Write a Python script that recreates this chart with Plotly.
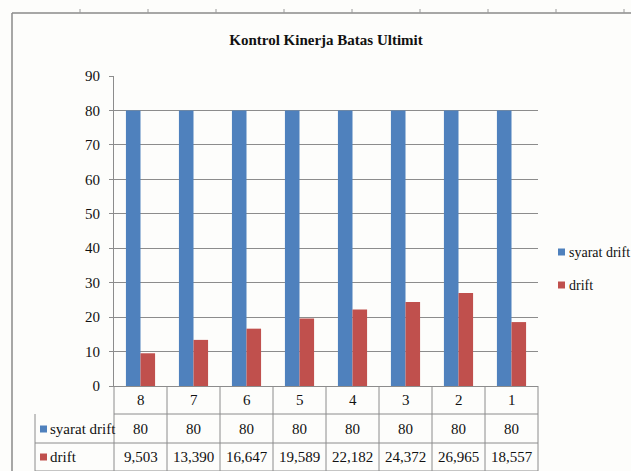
import plotly.graph_objects as go

categories = ["8", "7", "6", "5", "4", "3", "2", "1"]
syarat_drift = [80, 80, 80, 80, 80, 80, 80, 80]
drift = [9.503, 13.390, 16.647, 19.589, 22.182, 24.372, 26.965, 18.557]
series_names = ["syarat drift", "drift"]
colors = ["#4F81BD", "#C0504D"]
title_text = "Kontrol Kinerja Batas Ultimit"

W, H = 631, 471
L, R, T, B = 114, 93, 76, 85
PW, PH = W - L - R, H - T - B
FONT = "Liberation Serif"
GRID = "#8c8c8c"

def px_x(p):
    return (p - L) / PW

def px_y(p):
    return (H - B - p) / PH

fig = go.Figure()
for name, vals, col in zip(series_names, [syarat_drift, drift], colors):
    fig.add_trace(go.Bar(x=categories, y=vals, name=name, marker_color=col,
                         marker_line_width=0, showlegend=False))

shapes = []
annotations = []

# table geometry (rows below plot)
row_lines = [px_y(414), px_y(443), px_y(471)]
row_centers = [px_y(400), px_y(429), px_y(457)]
left_edge = px_x(35)

# horizontal lines
shapes.append(dict(type="line", xref="paper", yref="paper", x0=0, x1=1,
                   y0=row_lines[0], y1=row_lines[0], line=dict(color=GRID, width=1)))
for yl in row_lines[1:]:
    shapes.append(dict(type="line", xref="paper", yref="paper", x0=left_edge, x1=1,
                       y0=yl, y1=yl, line=dict(color=GRID, width=1)))
# vertical lines
shapes.append(dict(type="line", xref="paper", yref="paper", x0=0, x1=0,
                   y0=row_lines[-1], y1=0, line=dict(color=GRID, width=1)))
shapes.append(dict(type="line", xref="paper", yref="paper", x0=1, x1=1,
                   y0=row_lines[-1], y1=0, line=dict(color=GRID, width=1)))
shapes.append(dict(type="line", xref="paper", yref="paper", x0=left_edge, x1=left_edge,
                   y0=row_lines[-1], y1=row_lines[0], line=dict(color=GRID, width=1)))
for i in range(len(categories) - 1):
    shapes.append(dict(type="line", xref="x", yref="paper", x0=i + 0.5, x1=i + 0.5,
                       y0=row_lines[-1], y1=0, line=dict(color=GRID, width=1)))

# outer frame (document chart border)
shapes.append(dict(type="line", xref="paper", yref="paper", x0=px_x(12), x1=px_x(W),
                   y0=px_y(13), y1=px_y(13), line=dict(color="#8a8a8a", width=1.5)))
shapes.append(dict(type="line", xref="paper", yref="paper", x0=px_x(12), x1=px_x(12),
                   y0=px_y(13), y1=px_y(H), line=dict(color="#8a8a8a", width=1.5)))
for k in range(9):
    xx = px_x(80 + 68 * k)
    shapes.append(dict(type="line", xref="paper", yref="paper", x0=xx, x1=xx,
                       y0=px_y(13), y1=px_y(9), line=dict(color="#9a9a9a", width=1)))

# table text (x given as category index)
txt_font = dict(family=FONT, size=15, color="#111111")
for i, c in enumerate(categories):
    annotations.append(dict(x=i, y=row_centers[0], xref="x", yref="paper", text=c,
                            showarrow=False, yanchor="middle", font=txt_font))
for i, v in enumerate(syarat_drift):
    annotations.append(dict(x=i, y=row_centers[1], xref="x", yref="paper", text=str(v),
                            showarrow=False, yanchor="middle", font=txt_font))
for i, v in enumerate(drift):
    annotations.append(dict(x=i, y=row_centers[2], xref="x", yref="paper",
                            text=f"{v:.3f}".replace(".", ","),
                            showarrow=False, yanchor="middle", font=txt_font))
for name, col, yc in zip(series_names, colors, row_centers[1:]):
    shapes.append(dict(type="rect", xref="paper", yref="paper",
                       x0=px_x(40), x1=px_x(47), y0=yc - 3.5 / PH, y1=yc + 3.5 / PH,
                       fillcolor=col, line=dict(width=0)))
    annotations.append(dict(x=px_x(47.5), y=yc, xref="paper", yref="paper", text=name,
                            showarrow=False, xanchor="left", yanchor="middle",
                            font=dict(family=FONT, size=15, color="#111111")))

# legend (drawn at right of plot)
legend_rows = [px_y(252), px_y(285)]
for name, col, yc in zip(series_names, colors, legend_rows):
    shapes.append(dict(type="rect", xref="paper", yref="paper",
                       x0=px_x(558), x1=px_x(565), y0=yc - 3.5 / PH, y1=yc + 3.5 / PH,
                       fillcolor=col, line=dict(width=0)))
    annotations.append(dict(x=px_x(567), y=yc, xref="paper", yref="paper", text=name,
                            showarrow=False, xanchor="left", yanchor="middle",
                            font=dict(family=FONT, size=14, color="#111111")))

fig.update_layout(
    width=W, height=H,
    margin=dict(l=L, r=R, t=T, b=B, pad=0, autoexpand=False),
    paper_bgcolor="#fdfdfb",
    plot_bgcolor="rgba(0,0,0,0)",
    barmode="group",
    bargap=0.45,
    bargroupgap=0,
    title=dict(text="<b>" + title_text + "</b>", x=0.5, xref="paper", xanchor="center",
               y=1 - 40 / H, yref="container", yanchor="middle",
               font=dict(family=FONT, size=15, color="#111111")),
    xaxis=dict(type="category", categoryorder="array", categoryarray=categories,
               showticklabels=False, ticks="", showgrid=False, showline=True,
               linecolor=GRID, linewidth=1, zeroline=False, fixedrange=True),
    yaxis=dict(range=[0, 90], dtick=10, showgrid=True, gridcolor=GRID, gridwidth=1,
               showline=True, linecolor=GRID, linewidth=1, ticks="outside", ticklen=4,
               tickcolor=GRID, zeroline=False,
               tickfont=dict(family=FONT, size=15, color="#111111"), ticklabelstandoff=6),
    showlegend=False,
    shapes=shapes,
    annotations=annotations,
    hovermode=False,
)

fig.write_html("out.html", config={"displayModeBar": False},
               post_script="document.body.style.margin='0';document.body.style.overflow='hidden';")
